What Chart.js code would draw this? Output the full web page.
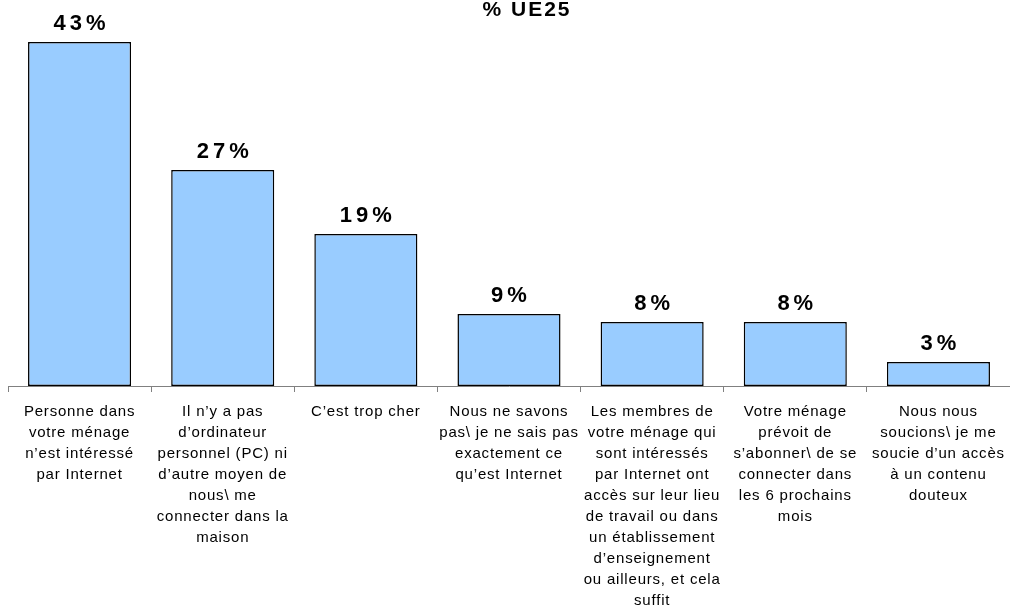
<!DOCTYPE html>
<html>
<head>
<meta charset="utf-8">
<script src="https://cdn.jsdelivr.net/npm/chart.js@4.4.1/dist/chart.umd.min.js"></script>
<style>
  html, body { margin: 0; padding: 0; background: #fff; }
  #box { width: 1010px; height: 610px; }
</style>
</head>
<body>
<div id="box"><canvas id="myChart"></canvas></div>
<script>
// categorie (etichette su più righe come nell'originale)
var categorie = [
  ["Personne dans", "votre ménage", "n’est intéressé", "par Internet"],
  ["Il n’y a pas", "d’ordinateur", "personnel (PC) ni", "d’autre moyen de", "nous\\ me", "connecter dans la", "maison"],
  ["C’est trop cher"],
  ["Nous ne savons", "pas\\ je ne sais pas", "exactement ce", "qu’est Internet"],
  ["Les membres de", "votre ménage qui", "sont intéressés", "par Internet ont", "accès sur leur lieu", "de travail ou dans", "un établissement", "d’enseignement", "ou ailleurs, et cela", "suffit"],
  ["Votre ménage", "prévoit de", "s’abonner\\ de se", "connecter dans", "les 6 prochains", "mois"],
  ["Nous nous", "soucions\\ je me", "soucie d’un accès", "à un contenu", "douteux"]
];
// valori in percentuale
var valori = [43, 27, 19, 9, 8, 8, 3];
var titolo = "% UE25";

var font = "'Liberation Sans', Arial, sans-serif";

// plugin per le etichette sopra le barre e il titolo
var etichettePlugin = {
  id: "etichette",
  beforeDraw: function(chart) {
    // spaziatura delle lettere come nel grafico originale
    chart.ctx.letterSpacing = "0.8px";
  },
  afterDatasetsDraw: function(chart) {
    var ctx = chart.ctx;
    var meta = chart.getDatasetMeta(0);
    ctx.save();
    ctx.letterSpacing = "4px";
    ctx.font = "bold 22px " + font;
    ctx.fillStyle = "#000";
    ctx.textAlign = "center";
    ctx.textBaseline = "alphabetic";
    for (var i = 0; i < meta.data.length; i++) {
      var bar = meta.data[i];
      ctx.fillText(valori[i] + "%", bar.x + 2, bar.y - 12);
    }
    // titolo
    ctx.font = "bold 21px " + font;
    ctx.letterSpacing = "2px";
    var area = chart.chartArea;
    ctx.fillText(titolo, (area.left + area.right) / 2 + 18, 15.5);
    ctx.restore();
  }
};

var ctx = document.getElementById("myChart").getContext("2d");
var myChart = new Chart(ctx, {
  type: "bar",
  data: {
    labels: categorie,
    datasets: [{
      data: valori,
      backgroundColor: "#99CCFF",
      borderColor: "#000000",
      borderWidth: 1.5,
      borderSkipped: false,
      barPercentage: 0.72,
      categoryPercentage: 1
    }]
  },
  options: {
    responsive: true,
    maintainAspectRatio: false,
    animation: false,
    layout: { padding: { left: 8, right: 0, top: 26, bottom: 0 } },
    plugins: {
      legend: { display: false },
      tooltip: { enabled: false },
      title: { display: false }
    },
    scales: {
      x: {
        offset: true,
        grid: {
          offset: true,
          drawOnChartArea: false,
          drawTicks: true,
          tickLength: 6,
          color: "#808080"
        },
        border: { display: true, color: "#808080", width: 1 },
        ticks: {
          color: "#000",
          font: { family: font, size: 15, lineHeight: 1.4 },
          maxRotation: 0,
          autoSkip: false,
          padding: 9
        },
        afterFit: function(scale) {
          scale.height = 224;
        }
      },
      y: {
        display: false,
        min: 0,
        max: 45
      }
    }
  },
  plugins: [etichettePlugin]
});
</script>
</body>
</html>
